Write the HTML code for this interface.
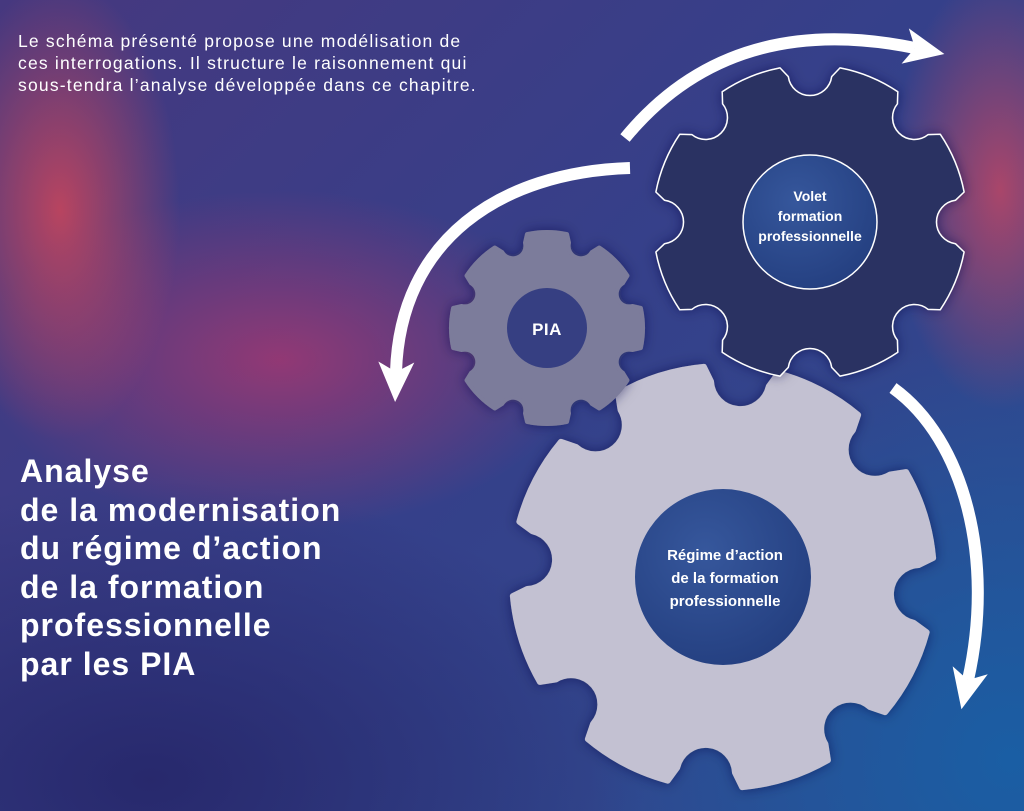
<!DOCTYPE html>
<html><head><meta charset="utf-8">
<style>
html,body{margin:0;padding:0}
body{width:1024px;height:811px;overflow:hidden;position:relative;font-family:"Liberation Sans",sans-serif;
background:
radial-gradient(ellipse 120px 230px at 60px 210px, rgba(205,70,90,0.85), rgba(205,70,90,0) 100%),
radial-gradient(ellipse 300px 170px at 280px 360px, rgba(175,55,110,0.75), rgba(175,55,110,0) 100%),
radial-gradient(ellipse 110px 220px at 1000px 190px, rgba(190,70,100,0.85), rgba(190,70,100,0) 100%),
radial-gradient(ellipse 420px 420px at 1010px 760px, rgba(25,95,165,0.95), rgba(25,95,165,0) 100%),
radial-gradient(ellipse 500px 300px at 150px 780px, rgba(38,38,105,0.9), rgba(38,38,105,0) 100%),
linear-gradient(135deg,#46387f 0%,#35408a 50%,#2d4c90 100%);}
.t{position:absolute;left:18px;top:30px;color:#fff;font-size:17.5px;line-height:22px;letter-spacing:1.2px}
.h{position:absolute;left:20px;top:452px;color:#fff;font-size:32px;font-weight:bold;line-height:38.5px;letter-spacing:1px}
svg{position:absolute;left:0;top:0}
</style></head><body>
<div class="t">Le schéma présenté propose une modélisation de<br>ces interrogations. Il structure le raisonnement qui<br>sous-tendra l’analyse développée dans ce chapitre.</div>
<div class="h">Analyse<br>de la modernisation<br>du régime d’action<br>de la formation<br>professionnelle<br>par les PIA</div>
<svg width="1024" height="811" viewBox="0 0 1024 811">
<defs>
<radialGradient id="hole" cx="0.4" cy="0.35" r="0.7"><stop offset="0" stop-color="#36579c"/><stop offset="1" stop-color="#243f80"/></radialGradient>
<filter id="sh" x="-20%" y="-20%" width="140%" height="140%"><feDropShadow dx="0" dy="0" stdDeviation="6" flood-color="#101840" flood-opacity="0.5"/></filter>
<marker id="ah" markerUnits="userSpaceOnUse" markerWidth="60" markerHeight="60" refX="10" refY="20" orient="auto" viewBox="0 0 60 40">
<path d="M0,2 L40,20 L0,38 L10,20 Z" fill="#fff"/></marker>
</defs>
<path id="g3" fill="#c3c1d2" filter="url(#sh)" stroke="#c3c1d2" stroke-width="6" stroke-linejoin="round"/>
<path id="g1" fill="#7c7b9b" filter="url(#sh)" stroke="#7c7b9b" stroke-width="4" stroke-linejoin="round"/>
<circle cx="547" cy="328" r="40" fill="#363f82"/>
<text x="547" y="335" fill="#fff" font-size="17" font-weight="bold" text-anchor="middle" letter-spacing="0.5">PIA</text>
<path id="g2" fill="#2b3362" stroke="#fff" stroke-width="1.5" stroke-linejoin="round" filter="url(#sh)"/>
<circle cx="810" cy="222" r="67" fill="url(#hole)" stroke="#fff" stroke-width="1.5"/>
<text fill="#fff" font-size="14" font-weight="bold" text-anchor="middle"><tspan x="810" y="201">Volet</tspan><tspan x="810" y="221">formation</tspan><tspan x="810" y="241">professionnelle</tspan></text>
<circle cx="723" cy="577" r="88" fill="url(#hole)"/>
<text fill="#fff" font-size="15" font-weight="bold" text-anchor="middle"><tspan x="725" y="560">Régime d’action</tspan><tspan x="725" y="583">de la formation</tspan><tspan x="725" y="606">professionnelle</tspan></text>
<g fill="none" stroke="#fff" stroke-width="12">
<path d="M625,138 Q730,10 915,48" marker-end="url(#ah)"/>
<path d="M630,168 C500,172 400,240 396,372" marker-end="url(#ah)"/>
<path d="M893,388 C965,440 995,560 968,680" marker-end="url(#ah)"/>
</g>
</svg>
<script>
function gear(cx,cy,R,Rr,at,ar,N,rot){
 var D=Math.PI/180;at*=D;ar*=D;
 function X(r,a){return [cx+r*Math.cos(a),cy+r*Math.sin(a)];}
 function S(p){return p[0].toFixed(1)+','+p[1].toFixed(1);}
 var d='';
 for(var i=0;i<N;i++){
  var t=rot*D+i*2*Math.PI/N, t2=t+2*Math.PI/N;
  var a=X(Rr,t-ar),b=X(R,t-at),c=X(R,t+at),e=X(Rr,t+ar),f=X(Rr,t2-ar);
  if(i==0)d+='M'+S(a);
  d+=' L'+S(b)+' A'+R+','+R+' 0 0 1 '+S(c)+' L'+S(e);
  var ch=Math.hypot(f[0]-e[0],f[1]-e[1]);var rr=ch/2*1.01;
  d+=' A'+rr.toFixed(1)+','+rr.toFixed(1)+' 0 0 0 '+S(f);
 }
 return d+'Z';
}
document.getElementById('g1').setAttribute('d',gear(547,328,96,88,12,14.5,8,-90));
document.getElementById('g2').setAttribute('d',gear(810,222,157,147,11.5,14,8,-67.5));
document.getElementById('g3').setAttribute('d',gear(723,577,211,196,12.3,14,8,-62.5));
</script>
</body></html>
